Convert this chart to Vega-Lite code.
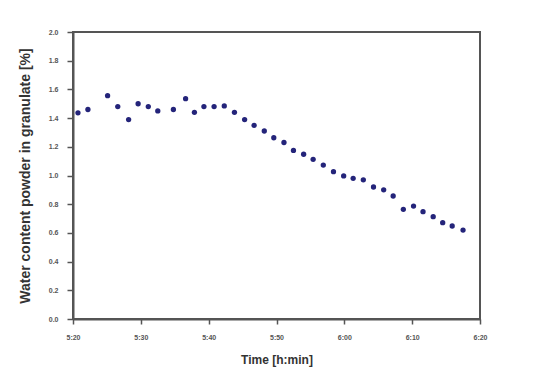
{
  "$schema": "https://vega.github.io/schema/vega-lite/v6.json",
  "width": 407,
  "height": 287,
  "autosize": "none",
  "padding": {"left": 73, "top": 32, "right": 59, "bottom": 69},
  "background": "white",
  "view": {"stroke": "#555555", "strokeWidth": 2, "fill": "white"},
  "config": {
    "font": "Liberation Sans",
    "axis": {"grid": false, "domain": true, "domainColor": "#555555", "domainWidth": 2, "tickColor": "#555555", "tickWidth": 1.5, "labelColor": "#555555", "labelFont": "Liberation Sans", "labelFontWeight": "bold", "titleFont": "Liberation Sans", "titleFontWeight": "bold", "titleColor": "#333333"}
  },
  "data": {
    "values": [
      {"time": "2000-01-01T05:20:44", "water": 1.437},
      {"time": "2000-01-01T05:22:12", "water": 1.46},
      {"time": "2000-01-01T05:25:06", "water": 1.556},
      {"time": "2000-01-01T05:26:36", "water": 1.48},
      {"time": "2000-01-01T05:28:12", "water": 1.39},
      {"time": "2000-01-01T05:29:36", "water": 1.5},
      {"time": "2000-01-01T05:31:06", "water": 1.48},
      {"time": "2000-01-01T05:32:30", "water": 1.45},
      {"time": "2000-01-01T05:34:48", "water": 1.46},
      {"time": "2000-01-01T05:36:36", "water": 1.535},
      {"time": "2000-01-01T05:37:54", "water": 1.44},
      {"time": "2000-01-01T05:39:18", "water": 1.48},
      {"time": "2000-01-01T05:40:48", "water": 1.48},
      {"time": "2000-01-01T05:42:18", "water": 1.485},
      {"time": "2000-01-01T05:43:48", "water": 1.44},
      {"time": "2000-01-01T05:45:18", "water": 1.39},
      {"time": "2000-01-01T05:46:42", "water": 1.35},
      {"time": "2000-01-01T05:48:12", "water": 1.31},
      {"time": "2000-01-01T05:49:36", "water": 1.263},
      {"time": "2000-01-01T05:51:06", "water": 1.23},
      {"time": "2000-01-01T05:52:30", "water": 1.175},
      {"time": "2000-01-01T05:54:00", "water": 1.148},
      {"time": "2000-01-01T05:55:24", "water": 1.113},
      {"time": "2000-01-01T05:56:54", "water": 1.073},
      {"time": "2000-01-01T05:58:24", "water": 1.027},
      {"time": "2000-01-01T05:59:54", "water": 0.997},
      {"time": "2000-01-01T06:01:18", "water": 0.98},
      {"time": "2000-01-01T06:02:48", "water": 0.97},
      {"time": "2000-01-01T06:04:18", "water": 0.92},
      {"time": "2000-01-01T06:05:48", "water": 0.9},
      {"time": "2000-01-01T06:07:12", "water": 0.857},
      {"time": "2000-01-01T06:08:42", "water": 0.764},
      {"time": "2000-01-01T06:10:12", "water": 0.787},
      {"time": "2000-01-01T06:11:36", "water": 0.748},
      {"time": "2000-01-01T06:13:06", "water": 0.713},
      {"time": "2000-01-01T06:14:30", "water": 0.671},
      {"time": "2000-01-01T06:15:54", "water": 0.648},
      {"time": "2000-01-01T06:17:30", "water": 0.62}
    ]
  },
  "mark": {"type": "point", "filled": true, "shape": "circle", "size": 28, "color": "#24247a", "opacity": 1},
  "encoding": {
    "x": {
      "field": "time",
      "type": "temporal",
      "scale": {"domain": [{"year": 2000, "month": 1, "date": 1, "hours": 5, "minutes": 20}, {"year": 2000, "month": 1, "date": 1, "hours": 6, "minutes": 20}], "nice": false},
      "axis": {
        "title": "Time [h:min]",
        "format": "%-H:%M",
        "values": [
          {"year": 2000, "month": 1, "date": 1, "hours": 5, "minutes": 20},
          {"year": 2000, "month": 1, "date": 1, "hours": 5, "minutes": 30},
          {"year": 2000, "month": 1, "date": 1, "hours": 5, "minutes": 40},
          {"year": 2000, "month": 1, "date": 1, "hours": 5, "minutes": 50},
          {"year": 2000, "month": 1, "date": 1, "hours": 6, "minutes": 0},
          {"year": 2000, "month": 1, "date": 1, "hours": 6, "minutes": 10},
          {"year": 2000, "month": 1, "date": 1, "hours": 6, "minutes": 20}
        ],
        "tickSize": 5,
        "labelPadding": 9,
        "labelFontSize": 7,
        "titleFontSize": 12,
        "titlePadding": 14,
        "labelFlush": false
      }
    },
    "y": {
      "field": "water",
      "type": "quantitative",
      "scale": {"domain": [0, 2], "nice": false},
      "axis": {
        "title": "Water content powder in granulate [%]",
        "values": [0, 0.2, 0.4, 0.6, 0.8, 1.0, 1.2, 1.4, 1.6, 1.8, 2.0],
        "format": ".1f",
        "tickSize": 6,
        "labelPadding": 9,
        "labelFontSize": 7,
        "titleFontSize": 14,
        "titlePadding": 16,
        "labelFlush": false
      }
    }
  }
}
